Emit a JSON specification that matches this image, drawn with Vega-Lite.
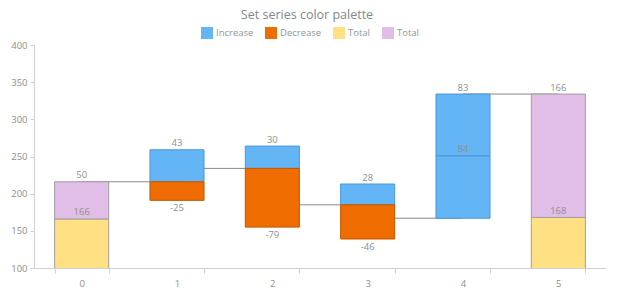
{
  "$schema": "https://vega.github.io/schema/vega-lite/v6.json",
  "width": 572,
  "height": 223,
  "autosize": {"type": "none"},
  "padding": {"left": 34, "top": 45, "right": 14, "bottom": 32},
  "background": "white",
  "config": {"view": {"stroke": null}, "font": "Open Sans"},
  "title": {"text": "Set series color palette", "fontSize": 12.5, "fontWeight": "normal", "color": "#7f878f", "font": "Open Sans", "dx": -13, "offset": 6},
  "datasets": {
    "bars": [
      {"x": "0", "series": "Total", "y0": 0, "y1": 166, "label": "166"},
      {"x": "0", "series": "Total2", "y0": 166, "y1": 216, "label": "50"},
      {"x": "1", "series": "Increase", "y0": 216, "y1": 259, "label": "43"},
      {"x": "1", "series": "Decrease", "y0": 216, "y1": 191, "label": "-25"},
      {"x": "2", "series": "Increase", "y0": 234, "y1": 264, "label": "30"},
      {"x": "2", "series": "Decrease", "y0": 234, "y1": 155, "label": "-79"},
      {"x": "3", "series": "Increase", "y0": 185, "y1": 213, "label": "28"},
      {"x": "3", "series": "Decrease", "y0": 185, "y1": 139, "label": "-46"},
      {"x": "4", "series": "Increase", "y0": 167, "y1": 251, "label": "84"},
      {"x": "4", "series": "Increase", "y0": 251, "y1": 334, "label": "83"},
      {"x": "5", "series": "Total", "y0": 0, "y1": 168, "label": "168"},
      {"x": "5", "series": "Total2", "y0": 168, "y1": 334, "label": "166"}
    ],
    "links": [
      {"from": "0", "to": "1", "level": 216},
      {"from": "1", "to": "2", "level": 234},
      {"from": "2", "to": "3", "level": 185},
      {"from": "3", "to": "4", "level": 167},
      {"from": "4", "to": "5", "level": 334}
    ]
  },
  "layer": [
    {
      "data": {"name": "links"},
      "mark": {"type": "rule", "color": "#8a8a8a", "strokeWidth": 1},
      "encoding": {
        "x": {
          "field": "from", "type": "nominal",
          "scale": {"domain": ["0", "1", "2", "3", "4", "5"], "paddingInner": 0.433, "paddingOuter": 0.2165},
          "axis": {"title": null, "labelAngle": 0, "labelFontSize": 9.5, "labelColor": "#8e8e8e", "domainColor": "#d0d0d0", "tickColor": "#d0d0d0", "tickSize": 5, "tickBand": "extent", "labelPadding": 5}
        },
        "x2": {"field": "to"},
        "y": {
          "field": "level", "type": "quantitative",
          "scale": {"domain": [100, 400], "nice": false, "zero": false},
          "axis": {"title": null, "values": [100, 150, 200, 250, 300, 350, 400], "tickCount": 7, "labelOverlap": false, "grid": false, "labelFontSize": 9.5, "labelColor": "#8e8e8e", "domainColor": "#d0d0d0", "tickColor": "#d0d0d0", "tickSize": 4, "labelPadding": 3}
        }
      }
    },
    {
      "data": {"name": "bars"},
      "mark": {"type": "bar", "clip": true, "strokeWidth": 1},
      "encoding": {
        "x": {"field": "x", "type": "nominal"},
        "y": {"field": "y0", "type": "quantitative"},
        "y2": {"field": "y1"},
        "color": {
          "field": "series", "type": "nominal",
          "scale": {"domain": ["Increase", "Decrease", "Total", "Total2"], "range": ["#64B5F6", "#EF6C00", "#FFE082", "#E1BEE7"]},
          "legend": {"orient": "none", "legendX": 167, "legendY": -18, "direction": "horizontal", "symbolType": "square", "symbolSize": 144, "symbolStrokeWidth": 0, "labelFontSize": 9.5, "labelColor": "#8e969c", "title": null, "labelOffset": 3, "columnPadding": 11, "labelExpr": "datum.label == 'Total2' ? 'Total' : datum.label"}
        },
        "stroke": {
          "field": "series", "type": "nominal",
          "scale": {"domain": ["Increase", "Decrease", "Total", "Total2"], "range": ["#4b96d6", "#c25800", "#9e9e9e", "#9e9e9e"]},
          "legend": null
        }
      }
    },
    {
      "data": {"name": "bars"},
      "transform": [{"filter": "datum.series != 'Decrease'"}],
      "mark": {"type": "text", "baseline": "alphabetic", "dy": -3.5, "fontSize": 9.5, "color": "#8f8f8f"},
      "encoding": {
        "x": {"field": "x", "type": "nominal"},
        "y": {"field": "y1", "type": "quantitative"},
        "text": {"field": "label"}
      }
    },
    {
      "data": {"name": "bars"},
      "transform": [{"filter": "datum.series == 'Decrease'"}],
      "mark": {"type": "text", "baseline": "top", "dy": 3, "fontSize": 9.5, "color": "#8f8f8f"},
      "encoding": {
        "x": {"field": "x", "type": "nominal"},
        "y": {"field": "y1", "type": "quantitative"},
        "text": {"field": "label"}
      }
    }
  ]
}
